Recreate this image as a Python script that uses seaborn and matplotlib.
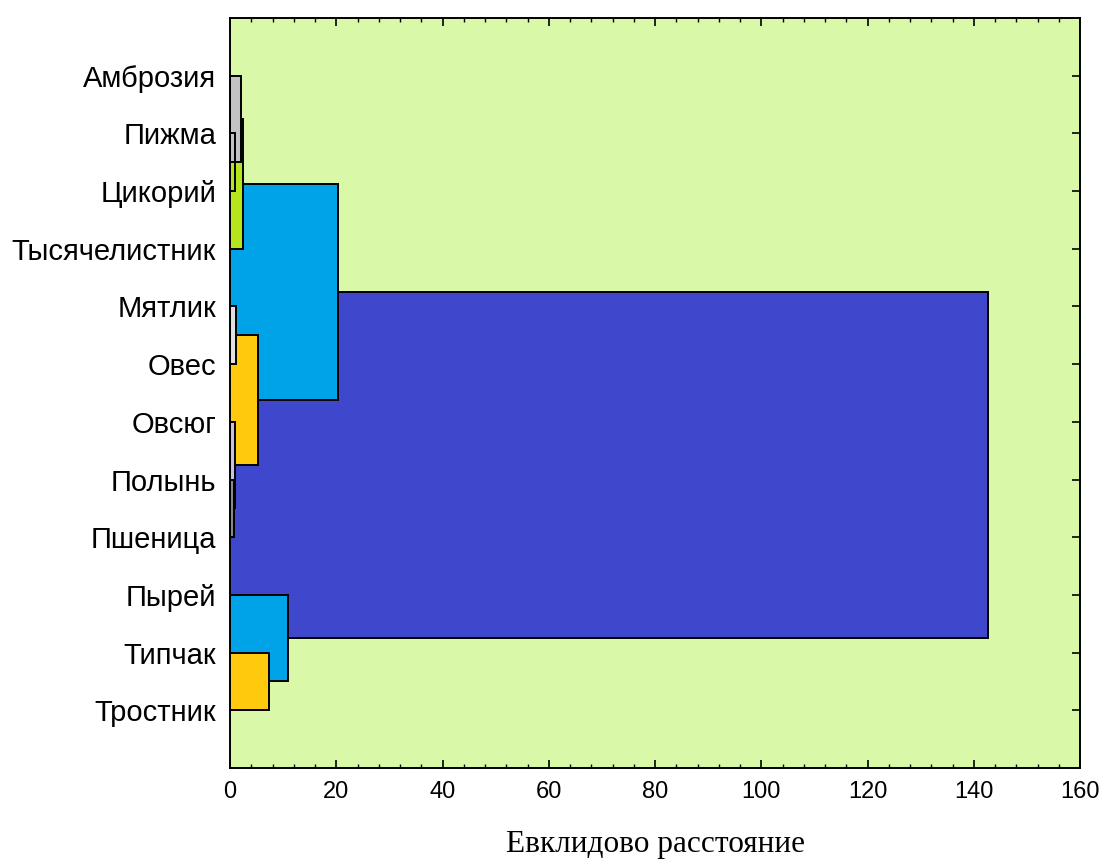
import matplotlib
matplotlib.use("Agg")
import matplotlib.pyplot as plt
from matplotlib.ticker import MultipleLocator
import seaborn as sns

# Leaves (top to bottom)
leaves = ["Амброзия", "Пижма", "Цикорий", "Тысячелистник", "Мятлик", "Овес",
          "Овсюг", "Полынь", "Пшеница", "Пырей", "Типчак", "Тростник"]

# Merges: child a, child b (indices: leaves 0..11, merges 12..), linkage distance, colour
merge_a = [1, 0, 13, 4, 7, 6, 15, 14, 10, 9, 19]
merge_b = [2, 12, 3, 5, 8, 16, 17, 18, 11, 20, 21]
merge_dist = [0.98, 2.13, 2.39, 1.05, 0.75, 1.0, 5.2, 20.4, 7.4, 10.86, 142.7]
merge_color = ["none", "#c3c3c3", "#b5e61d", "#e0e0e0", "#8a8a8a", "#c8bfe7",
               "#ffc90e", "#00a2e8", "#ffc90e", "#00a2e8", "#3f48cc"]

xticks = [0, 20, 40, 60, 80, 100, 120, 140, 160]
xlabel = "Евклидово расстояние"

sns.set_style("ticks")
plt.rcParams["font.family"] = ["Liberation Sans", "DejaVu Sans"]
plt.rcParams["text.color"] = "black"
plt.rcParams["axes.labelcolor"] = "black"
plt.rcParams["xtick.color"] = "black"
plt.rcParams["ytick.color"] = "black"

# cluster positions derived from the tree
pos = list(range(len(leaves)))
spans = []
for a, b in zip(merge_a, merge_b):
    y0, y1 = sorted((pos[a], pos[b]))
    spans.append((y0, y1))
    pos.append((y0 + y1) / 2)

fig = plt.figure(figsize=(11.02, 8.59), dpi=100)
ax = fig.add_axes([230 / 1102, 1 - 768 / 859, 850 / 1102, 750 / 859])
ax.set_facecolor("#d9f9a8")

order = sorted(range(len(merge_dist)), key=lambda i: -merge_dist[i])
ax.barh([spans[i][0] for i in order],
        [merge_dist[i] for i in order],
        height=[spans[i][1] - spans[i][0] for i in order],
        left=0, align="edge",
        color=[merge_color[i] for i in order],
        edgecolor="black", linewidth=1.4)

ax.set_xlim(0, 160)
ax.set_ylim(len(leaves), -1)
ax.set_xticks(xticks)
ax.set_xticklabels([str(v) for v in xticks])
ax.xaxis.set_minor_locator(MultipleLocator(4))
ax.set_yticks(range(len(leaves)))
ax.set_yticklabels(leaves, fontsize=21)

ax.tick_params(axis="x", which="major", direction="in", top=True, bottom=True,
               length=6, width=1.2, labelsize=17, pad=9, colors="black")
ax.tick_params(axis="x", which="minor", direction="in", top=True, bottom=True,
               length=3, width=1.0, colors="black")
ax.tick_params(axis="y", which="major", direction="in", left=False, right=True,
               length=6, width=1.2, pad=10, colors="black")

for s in ax.spines.values():
    s.set_color("black")
    s.set_linewidth(1.4)

ax.set_xlabel(xlabel, fontsize=22.5, family=["Liberation Serif", "DejaVu Serif"],
              labelpad=20, color="black")

fig.savefig("out.png", dpi=100)
